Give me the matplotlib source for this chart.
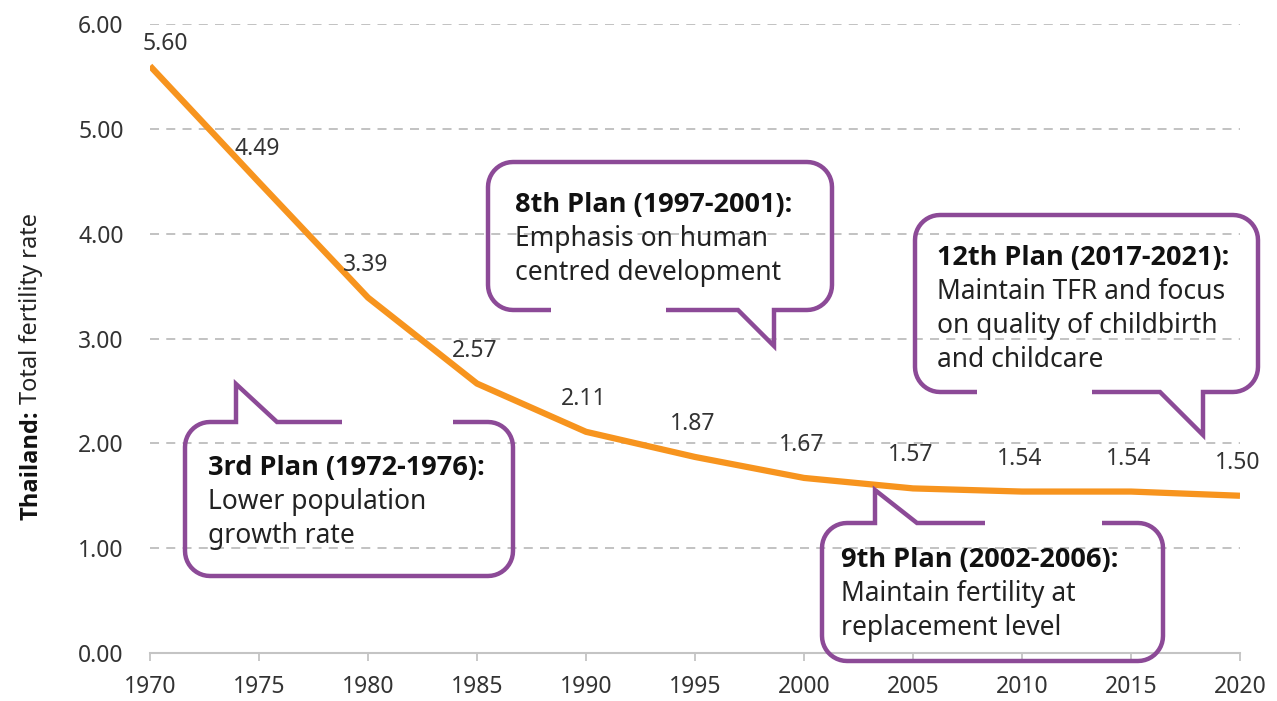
import matplotlib
matplotlib.use("Agg")
import matplotlib.pyplot as plt
from matplotlib import font_manager as fm
import numpy as np

plt.rcParams["font.family"] = ["Noto Sans", "DejaVu Sans"]

# data
years = [1970, 1975, 1980, 1985, 1990, 1995, 2000, 2005, 2010, 2015, 2020]
tfr = [5.60, 4.49, 3.39, 2.57, 2.11, 1.87, 1.67, 1.57, 1.54, 1.54, 1.50]

plan_titles = ["3rd Plan (1972-1976):", "8th Plan (1997-2001):",
               "9th Plan (2002-2006):", "12th Plan (2017-2021):"]
plan_texts = [["Lower population", "growth rate"],
              ["Emphasis on human", "centred development"],
              ["Maintain fertility at", "replacement level"],
              ["Maintain TFR and focus", "on quality of childbirth", "and childcare"]]

orange = "#F7941E"
purple = "#8C4A97"
grey = "#c4c4c4"

# find a family that really has a bold face
bold_family = "DejaVu Sans"
for fam in ["Noto Sans", "Open Sans", "Lato"]:
    try:
        f = fm.findfont(fm.FontProperties(family=fam, weight="bold"),
                        fallback_to_default=False)
        if "bold" in f.lower():
            bold_family = fam
            break
    except Exception:
        pass

W, H = 1277, 701
fig = plt.figure(figsize=(W / 100, H / 100), dpi=100)
ax = fig.add_axes([150 / W, (H - 653) / H, 1090 / W, 629 / H])

ax.plot(years, tfr, color=orange, lw=4.5, solid_capstyle="butt", zorder=3)
ax.set_xlim(1970, 2020)
ax.set_ylim(0, 6)
ax.set_xticks(years)
ax.set_yticks(np.arange(0, 7, 1))
ax.set_yticklabels(["%.2f" % v for v in np.arange(0, 7, 1)])

for s in ["top", "right", "left"]:
    ax.spines[s].set_visible(False)
ax.spines["bottom"].set_color(grey)
ax.spines["bottom"].set_linewidth(1.5)
ax.tick_params(axis="x", direction="out", length=6, width=1.3, color=grey,
               pad=10, labelsize=16.5, labelcolor="#333333")
ax.tick_params(axis="y", length=0, pad=19, labelsize=16.5, labelcolor="#333333")
ax.yaxis.grid(True, ls=(0, (5, 4)), color="#bdbdbd", lw=1.3)
ax.set_axisbelow(True)

# value labels above the points
for i, (x, y) in enumerate(zip(years, tfr)):
    dx, dy = (15, 22) if i == 0 else (-2, 33)
    ax.annotate("%.2f" % y, (x, y), xytext=(dx, dy), textcoords="offset pixels",
                ha="center", va="center", fontsize=16.5, color="#333333")

# overlay in pixel coordinates for the speech bubbles
ov = fig.add_axes([0, 0, 1, 1], zorder=5)
ov.set_xlim(0, W)
ov.set_ylim(H, 0)
ov.axis("off")
ov.patch.set_alpha(0)


def arc(cx, cy, r, a0, a1):
    t = np.radians(np.linspace(a0, a1, 12))
    return list(zip(cx + r * np.cos(t), cy + r * np.sin(t)))


def bubble(box, side, tail, gap, r=25):
    x0, y0, x1, y1 = box
    tl = arc(x0 + r, y0 + r, r, 180, 270)
    tr = arc(x1 - r, y0 + r, r, 270, 360)
    br = arc(x1 - r, y1 - r, r, 0, 90)
    bl = arc(x0 + r, y1 - r, r, 90, 180)
    if side == "top":
        pts = [(gap[1], y0)] + tr + br + bl + tl + tail + [(gap[0], y0)]
    else:
        pts = [(gap[0], y1)] + bl + tl + tr + br + tail + [(gap[1], y1)]
    xs, ys = zip(*pts)
    ov.plot(xs, ys, color=purple, lw=3.2, solid_joinstyle="miter",
            solid_capstyle="butt")


def bubble_text(x, y, title, lines, step=34):
    ov.text(x, y, title, fontsize=19.5, fontweight="bold", family=bold_family,
            color="#111111", va="baseline", ha="left")
    for k, ln in enumerate(lines):
        ov.text(x, y + step * (k + 1), ln, fontsize=19, color="#222222",
                va="baseline", ha="left")


# 3rd plan
bubble((185, 422, 513, 576), "top", [(236, 422), (236, 384), (277, 422)], (342, 453))
bubble_text(208, 475, plan_titles[0], plan_texts[0])
# 8th plan
bubble((488, 162, 832, 310), "bottom", [(774, 310), (774, 346), (738, 310)], (551, 666))
bubble_text(515, 212, plan_titles[1], plan_texts[1])
# 9th plan
bubble((822, 523, 1163, 661), "top", [(875, 523), (875, 490), (917, 523)], (985, 1102))
bubble_text(841, 567, plan_titles[2], plan_texts[2])
# 12th plan
bubble((915, 215, 1258, 392), "bottom", [(1203, 392), (1203, 435), (1160, 392)], (977, 1092))
bubble_text(937, 265, plan_titles[3], plan_texts[3])

# y label: bold country + regular title, rotated
t1 = ov.text(31, 520, "Thailand:", rotation=90, fontsize=17, fontweight="bold",
             family=bold_family, ha="center", va="bottom", color="#111111")
fig.canvas.draw()
bb = t1.get_window_extent()
ov.text(31, H - bb.y1 - 6, "Total fertility rate", rotation=90, fontsize=17,
        ha="center", va="bottom", color="#222222")

fig.savefig("out.png", dpi=100)
